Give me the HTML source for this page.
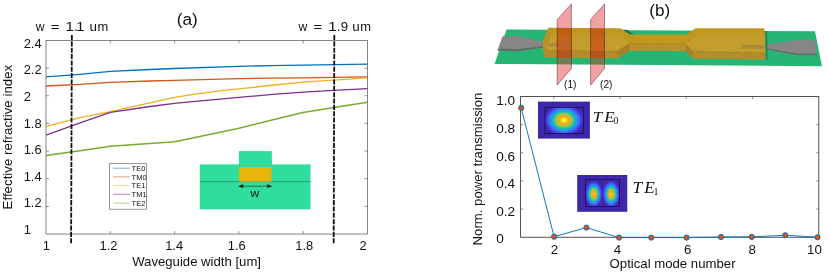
<!DOCTYPE html>
<html><head><meta charset="utf-8"><title>figure</title>
<style>
html,body{margin:0;padding:0;background:#fff;}
body{width:829px;height:272px;overflow:hidden;font-family:"Liberation Sans",sans-serif;}
svg{display:block;}
text{font-family:"Liberation Sans",sans-serif;fill:#111;}
.ser{font-family:"Liberation Serif",serif;font-style:italic;}
</style></head><body>
<svg width="829" height="272" viewBox="0 0 829 272" style="will-change:transform">
<rect width="829" height="272" fill="#fff"/>
<defs>
<filter id="pm" x="0" y="0" width="1" height="1" color-interpolation-filters="sRGB"><feComponentTransfer><feFuncR type="table" tableValues="0.242 0.253 0.264 0.272 0.276 0.281 0.279 0.273 0.258 0.239 0.196 0.184 0.171 0.158 0.135 0.108 0.080 0.070 0.069 0.070 0.070 0.121 0.172 0.226 0.295 0.367 0.449 0.534 0.622 0.707 0.788 0.843 0.880 0.886 0.892 0.899 0.905 0.927 0.950 0.963 0.977"/><feFuncG type="table" tableValues="0.150 0.174 0.198 0.227 0.263 0.298 0.333 0.368 0.404 0.441 0.485 0.516 0.547 0.580 0.609 0.637 0.665 0.691 0.710 0.728 0.746 0.759 0.773 0.785 0.788 0.791 0.796 0.796 0.785 0.765 0.733 0.701 0.670 0.674 0.677 0.681 0.685 0.753 0.820 0.902 0.984"/><feFuncB type="table" tableValues="0.660 0.726 0.792 0.848 0.894 0.940 0.962 0.981 0.990 0.998 0.989 0.974 0.954 0.930 0.906 0.883 0.860 0.842 0.805 0.766 0.726 0.679 0.632 0.584 0.526 0.466 0.395 0.326 0.260 0.210 0.182 0.166 0.160 0.160 0.160 0.160 0.160 0.145 0.130 0.105 0.081"/></feComponentTransfer></filter>
<radialGradient id="r0" cx="0.5" cy="0.5" r="0.5"><stop offset="0.0000" stop-color="rgb(255,255,255)"/><stop offset="0.0417" stop-color="rgb(254,254,254)"/><stop offset="0.0833" stop-color="rgb(251,251,251)"/><stop offset="0.1250" stop-color="rgb(245,245,245)"/><stop offset="0.1667" stop-color="rgb(238,238,238)"/><stop offset="0.2083" stop-color="rgb(229,229,229)"/><stop offset="0.2500" stop-color="rgb(218,218,218)"/><stop offset="0.2917" stop-color="rgb(205,205,205)"/><stop offset="0.3333" stop-color="rgb(191,191,191)"/><stop offset="0.3750" stop-color="rgb(176,176,176)"/><stop offset="0.4167" stop-color="rgb(160,160,160)"/><stop offset="0.4583" stop-color="rgb(144,144,144)"/><stop offset="0.5000" stop-color="rgb(128,128,128)"/><stop offset="0.5417" stop-color="rgb(111,111,111)"/><stop offset="0.5833" stop-color="rgb(95,95,95)"/><stop offset="0.6250" stop-color="rgb(79,79,79)"/><stop offset="0.6667" stop-color="rgb(64,64,64)"/><stop offset="0.7083" stop-color="rgb(50,50,50)"/><stop offset="0.7500" stop-color="rgb(37,37,37)"/><stop offset="0.7917" stop-color="rgb(26,26,26)"/><stop offset="0.8333" stop-color="rgb(17,17,17)"/><stop offset="0.8750" stop-color="rgb(10,10,10)"/><stop offset="0.9167" stop-color="rgb(4,4,4)"/><stop offset="0.9583" stop-color="rgb(1,1,1)"/><stop offset="1.0000" stop-color="rgb(0,0,0)"/></radialGradient>
<radialGradient id="r1" cx="0.5" cy="0.5" r="0.5"><stop offset="0.0000" stop-color="rgb(244,244,244)"/><stop offset="0.0417" stop-color="rgb(242,242,242)"/><stop offset="0.0833" stop-color="rgb(239,239,239)"/><stop offset="0.1250" stop-color="rgb(234,234,234)"/><stop offset="0.1667" stop-color="rgb(227,227,227)"/><stop offset="0.2083" stop-color="rgb(218,218,218)"/><stop offset="0.2500" stop-color="rgb(208,208,208)"/><stop offset="0.2917" stop-color="rgb(196,196,196)"/><stop offset="0.3333" stop-color="rgb(183,183,183)"/><stop offset="0.3750" stop-color="rgb(168,168,168)"/><stop offset="0.4167" stop-color="rgb(153,153,153)"/><stop offset="0.4583" stop-color="rgb(138,138,138)"/><stop offset="0.5000" stop-color="rgb(122,122,122)"/><stop offset="0.5417" stop-color="rgb(106,106,106)"/><stop offset="0.5833" stop-color="rgb(90,90,90)"/><stop offset="0.6250" stop-color="rgb(75,75,75)"/><stop offset="0.6667" stop-color="rgb(61,61,61)"/><stop offset="0.7083" stop-color="rgb(48,48,48)"/><stop offset="0.7500" stop-color="rgb(36,36,36)"/><stop offset="0.7917" stop-color="rgb(25,25,25)"/><stop offset="0.8333" stop-color="rgb(16,16,16)"/><stop offset="0.8750" stop-color="rgb(9,9,9)"/><stop offset="0.9167" stop-color="rgb(4,4,4)"/><stop offset="0.9583" stop-color="rgb(1,1,1)"/><stop offset="1.0000" stop-color="rgb(0,0,0)"/></radialGradient>
<clipPath id="c1a"><rect x="585.4" y="179.4" width="17.15" height="26.9"/></clipPath>
<clipPath id="c1b"><rect x="602.55" y="179.4" width="17.15" height="26.9"/></clipPath>
<clipPath id="c0"><rect x="545" y="107.3" width="38.5" height="26"/></clipPath>
<clipPath id="c1"><rect x="585.4" y="179.4" width="34.3" height="26.9"/></clipPath>
<clipPath id="ca"><rect x="46" y="40.4" width="321.5" height="193.6"/></clipPath>
</defs>
<g id="panelA">
<polyline fill="none" stroke="#0072BD" stroke-width="1.3" stroke-linejoin="round" points="46.00,76.90 80.00,74.30 110.30,71.35 150.00,69.50 174.50,68.50 238.90,66.30 270.00,65.70 303.00,65.10 367.50,64.10"/>
<polyline fill="none" stroke="#D95319" stroke-width="1.3" stroke-linejoin="round" points="46.00,86.00 80.00,84.30 110.30,82.30 150.00,81.00 174.50,80.40 238.90,78.70 270.00,78.20 303.00,77.80 367.50,76.90"/>
<polyline fill="none" stroke="#EDB120" stroke-width="1.3" stroke-linejoin="round" points="46.00,126.30 80.00,117.60 110.30,111.70 174.50,97.30 195.00,94.20 220.00,90.90 238.90,88.90 270.00,85.50 303.00,82.20 367.50,77.80"/>
<polyline fill="none" stroke="#7E2F8E" stroke-width="1.3" stroke-linejoin="round" points="46.00,135.20 80.00,122.90 110.30,112.40 150.00,106.50 174.50,103.40 195.00,101.30 220.00,99.10 238.90,97.40 270.00,94.60 303.00,92.10 334.00,90.30 367.50,88.70"/>
<polyline fill="none" stroke="#77AC30" stroke-width="1.3" stroke-linejoin="round" points="46.00,155.50 80.00,150.75 110.30,146.25 174.50,141.75 195.00,137.50 220.00,132.25 238.90,128.25 270.00,120.50 303.00,112.50 334.00,107.50 367.50,102.25"/>
<rect x="199.8" y="164.4" width="110.7" height="45" fill="#2fdd9c"/>
<rect x="238.9" y="151.1" width="33" height="14" fill="#2fdd9c"/>
<rect x="239.1" y="167.1" width="32.5" height="14.5" fill="#e9b509"/>
<line x1="199.8" y1="181.7" x2="239.1" y2="181.7" stroke="#1f8f68" stroke-width="0.8"/><line x1="271.6" y1="181.7" x2="310.5" y2="181.7" stroke="#1f8f68" stroke-width="0.8"/><line x1="239.1" y1="181.8" x2="271.6" y2="181.8" stroke="#8a8a3a" stroke-width="0.5"/>
<line x1="241" y1="186.2" x2="270" y2="186.2" stroke="#1a1a1a" stroke-width="0.6"/>
<polygon points="238.2,186.2 243.2,184.3 243.2,188.1" fill="#111"/>
<polygon points="272.3,186.2 267.3,184.3 267.3,188.1" fill="#111"/>
<text x="254.7" y="196.9" font-size="11.6" text-anchor="middle" transform="translate(254.7 0) scale(1.08 1) translate(-254.7 0)">w</text>
<rect x="46.00" y="40.45" width="321.50" height="193.60" fill="none" stroke="#666" stroke-width="0.8"/>
<line x1="110.30" y1="234.05" x2="110.30" y2="231.05" stroke="#666" stroke-width="0.7"/><line x1="110.30" y1="40.45" x2="110.30" y2="43.45" stroke="#666" stroke-width="0.7"/>
<line x1="174.60" y1="234.05" x2="174.60" y2="231.05" stroke="#666" stroke-width="0.7"/><line x1="174.60" y1="40.45" x2="174.60" y2="43.45" stroke="#666" stroke-width="0.7"/>
<line x1="238.90" y1="234.05" x2="238.90" y2="231.05" stroke="#666" stroke-width="0.7"/><line x1="238.90" y1="40.45" x2="238.90" y2="43.45" stroke="#666" stroke-width="0.7"/>
<line x1="303.20" y1="234.05" x2="303.20" y2="231.05" stroke="#666" stroke-width="0.7"/><line x1="303.20" y1="40.45" x2="303.20" y2="43.45" stroke="#666" stroke-width="0.7"/>
<line x1="46.00" y1="206.39" x2="49.00" y2="206.39" stroke="#666" stroke-width="0.7"/><line x1="367.50" y1="206.39" x2="364.50" y2="206.39" stroke="#666" stroke-width="0.7"/>
<line x1="46.00" y1="178.74" x2="49.00" y2="178.74" stroke="#666" stroke-width="0.7"/><line x1="367.50" y1="178.74" x2="364.50" y2="178.74" stroke="#666" stroke-width="0.7"/>
<line x1="46.00" y1="151.08" x2="49.00" y2="151.08" stroke="#666" stroke-width="0.7"/><line x1="367.50" y1="151.08" x2="364.50" y2="151.08" stroke="#666" stroke-width="0.7"/>
<line x1="46.00" y1="123.42" x2="49.00" y2="123.42" stroke="#666" stroke-width="0.7"/><line x1="367.50" y1="123.42" x2="364.50" y2="123.42" stroke="#666" stroke-width="0.7"/>
<line x1="46.00" y1="95.76" x2="49.00" y2="95.76" stroke="#666" stroke-width="0.7"/><line x1="367.50" y1="95.76" x2="364.50" y2="95.76" stroke="#666" stroke-width="0.7"/>
<line x1="46.00" y1="68.11" x2="49.00" y2="68.11" stroke="#666" stroke-width="0.7"/><line x1="367.50" y1="68.11" x2="364.50" y2="68.11" stroke="#666" stroke-width="0.7"/>
<line x1="71.85" y1="35.0" x2="71.10" y2="243.3" stroke="#111" stroke-width="1.8" stroke-dasharray="5.05 1.3"/>
<line x1="334.30" y1="35.0" x2="333.70" y2="243.3" stroke="#111" stroke-width="1.8" stroke-dasharray="5.05 1.3"/>
<rect x="109.4" y="163.7" width="37.1" height="45.5" fill="#fff" stroke="#6a6a6a" stroke-width="0.7"/>
<line x1="113.2" y1="168.20" x2="129.9" y2="168.20" stroke="#0072BD" stroke-width="0.8" opacity="0.7"/><text x="131.6" y="170.90" font-size="7.5">TE0</text>
<line x1="113.2" y1="176.80" x2="129.9" y2="176.80" stroke="#D95319" stroke-width="0.8" opacity="0.7"/><text x="131.6" y="179.50" font-size="7.5">TM0</text>
<line x1="113.2" y1="185.40" x2="129.9" y2="185.40" stroke="#EDB120" stroke-width="0.8" opacity="0.7"/><text x="131.6" y="188.10" font-size="7.5">TE1</text>
<line x1="113.2" y1="194.30" x2="129.9" y2="194.30" stroke="#7E2F8E" stroke-width="0.8" opacity="0.7"/><text x="131.6" y="197.00" font-size="7.5">TM1</text>
<line x1="113.2" y1="203.10" x2="129.9" y2="203.10" stroke="#77AC30" stroke-width="0.8" opacity="0.7"/><text x="131.6" y="205.80" font-size="7.5">TE2</text>
<text x="23.7" y="47.60" font-size="12.9">2.4</text>
<text x="23.7" y="74.10" font-size="12.9">2.2</text>
<text x="23.7" y="101.10" font-size="12.9">2</text>
<text x="23.7" y="127.75" font-size="12.9">1.8</text>
<text x="23.7" y="154.10" font-size="12.9">1.6</text>
<text x="23.7" y="180.60" font-size="12.9">1.4</text>
<text x="23.7" y="207.00" font-size="12.9">1.2</text>
<text x="23.7" y="233.60" font-size="12.9">1</text>
<text x="46.40" y="250.0" font-size="12.9" text-anchor="middle">1</text>
<text x="108.50" y="250.0" font-size="12.9" text-anchor="middle">1.2</text>
<text x="174.10" y="250.0" font-size="12.9" text-anchor="middle">1.4</text>
<text x="236.75" y="250.0" font-size="12.9" text-anchor="middle">1.6</text>
<text x="304.25" y="250.0" font-size="12.9" text-anchor="middle">1.8</text>
<text x="363.00" y="250.0" font-size="12.9" text-anchor="middle">2</text>
<text x="132.2" y="265.75" font-size="13.15">Waveguide width [um]</text>
<text transform="translate(12.1 209.4) rotate(-90)" font-size="13.3">Effective refractive index</text>
<text x="176.8" y="25.4" font-size="17.2">(a)</text>
<text transform="translate(40.15 30.6) scale(1.00 1)" font-size="12.2" text-anchor="middle" fill="#222">w</text><text transform="translate(55.20 30.6) scale(1.22 1)" font-size="12.2" text-anchor="middle" fill="#222">=</text><text transform="translate(69.75 30.6) scale(1.25 1)" font-size="12.2" text-anchor="middle" fill="#222">1</text><text transform="translate(75.95 30.6) scale(1.00 1)" font-size="12.2" text-anchor="middle" fill="#222">.</text><text transform="translate(80.25 30.6) scale(1.25 1)" font-size="12.2" text-anchor="middle" fill="#222">1</text><text transform="translate(93.30 30.6) scale(1.10 1)" font-size="12.2" text-anchor="middle" fill="#222">u</text><text transform="translate(102.95 30.6) scale(1.06 1)" font-size="12.2" text-anchor="middle" fill="#222">m</text>
<text transform="translate(302.90 30.6) scale(1.00 1)" font-size="12.2" text-anchor="middle" fill="#222">w</text><text transform="translate(317.95 30.6) scale(1.22 1)" font-size="12.2" text-anchor="middle" fill="#222">=</text><text transform="translate(332.50 30.6) scale(1.25 1)" font-size="12.2" text-anchor="middle" fill="#222">1</text><text transform="translate(338.70 30.6) scale(1.00 1)" font-size="12.2" text-anchor="middle" fill="#222">.</text><text transform="translate(344.40 30.6) scale(1.08 1)" font-size="12.2" text-anchor="middle" fill="#222">9</text><text transform="translate(356.05 30.6) scale(1.10 1)" font-size="12.2" text-anchor="middle" fill="#222">u</text><text transform="translate(365.70 30.6) scale(1.06 1)" font-size="12.2" text-anchor="middle" fill="#222">m</text>
</g>
<g id="panelB">
<polygon points="506.5,29.6 815,31.2 822,66.3 494.6,63.9" fill="#26b573"/>
<polygon points="502.5,36.2 518.5,36.3 544,42.1 544,46.0 518.5,49.0 498.1,48.4" fill="#868686"/>
<polygon points="498.1,48.4 518.5,49.0 544,46.0 544,47.6 517.6,51.5 497.5,50.7" fill="#6a6a6a"/>
<polygon points="765,45.0 798,39.5 814.5,40 817.3,53.4 797,53.4 765,48.0" fill="#868686"/>
<polygon points="765,48.0 797,53.4 817.3,53.4 817.6,55.2 798,55.2 765,49.3" fill="#6c6c6c"/>
<polygon points="764,30.9 767.2,31 767.8,60 765,59.6" fill="#1c8f58"/>
<polygon points="622,29.7 627,29.7 634,34.6 629.4,34.6" fill="#167a4c"/>
<polygon points="548.5,27.8 620.6,28.3 629.4,34.6 686.2,34.6 695.6,28.3 764.2,28.3 765.3,36 765.3,59.4 693,58.4 686,51.3 629.4,50.6 618,58.2 545,57.1 543,50.1 543,41.5" fill="#c0981f"/>
<polygon points="551,35.3 621.9,35.8 629.2,43.3 616.5,51.4 546,50.3" fill="#c39d2e"/>
<polygon points="686.2,44 696.9,35.5 764.3,35.5 765.3,52.9 693,51.4" fill="#c39d2e"/>
<polygon points="543,50.1 616.5,51.4 618,58.2 545,57.1" fill="#b38c2c"/>
<polygon points="693,51.4 765.3,52.9 765.3,59.4 693,58.4" fill="#b38c2c"/>
<polygon points="628.9,43.6 686.2,43.9 686,51.3 629.4,50.6" fill="#b8902d"/>
<polygon points="628.9,43.6 629.4,50.6 618,58.2 616.5,51.4" fill="#a4802a"/>
<polygon points="686.2,43.9 693,51.4 693,58.4 686,51.3" fill="#a4802a"/>
<path d="M546,50.4 L616.5,51.4 M629,43.6 L686,43.9 M693,51.4 L765,52.9" stroke="#8f6f22" stroke-width="0.6" stroke-dasharray="1.6 1.4" fill="none"/>
<polygon points="548.5,27.8 551,35.3 546,50.3 543,50.1 543,41.5" fill="#b8912a"/>
<rect x="548" y="43" width="21.5" height="3.8" fill="#a98a3e"/>
<rect x="741.5" y="44.9" width="22.5" height="3.9" fill="#a98a3e"/>
<clipPath id="cp0"><polygon points="557.2,19.7 571.4,3.9 571.4,68.4 557.2,85.1"/></clipPath>
<polygon points="557.2,19.7 571.4,3.9 571.4,68.4 557.2,85.1" fill="#f1a2a4"/>
<g clip-path="url(#cp0)"><polygon points="506.5,29.6 815,31.2 822,66.3 494.6,63.9" fill="#6d7f4c"/><polygon points="548.5,27.8 620.6,28.3 629.4,34.6 686.2,34.6 695.6,28.3 764.2,28.3 765.3,36 765.3,59.4 693,58.4 686,51.3 629.4,50.6 618,58.2 545,57.1 543,50.1 543,41.5" fill="#be5e13"/><polygon points="551,35.3 621.9,35.8 629.2,43.3 616.5,51.4 546,50.3" fill="#c5621d"/><polygon points="543,50.1 616.5,51.4 618,58.2 545,57.1" fill="#b3561c"/><rect x="548" y="43" width="21.5" height="3.8" fill="#b96030"/></g>
<polygon points="557.2,19.7 571.4,3.9 571.4,68.4 557.2,85.1" fill="none" stroke="#4a1414" stroke-width="0.55" stroke-opacity="0.85"/>
<clipPath id="cp1"><polygon points="590.6,19.7 604.5,3.9 604.5,68.4 590.6,85.1"/></clipPath>
<polygon points="590.6,19.7 604.5,3.9 604.5,68.4 590.6,85.1" fill="#f1a2a4"/>
<g clip-path="url(#cp1)"><polygon points="506.5,29.6 815,31.2 822,66.3 494.6,63.9" fill="#6d7f4c"/><polygon points="548.5,27.8 620.6,28.3 629.4,34.6 686.2,34.6 695.6,28.3 764.2,28.3 765.3,36 765.3,59.4 693,58.4 686,51.3 629.4,50.6 618,58.2 545,57.1 543,50.1 543,41.5" fill="#be5e13"/><polygon points="551,35.3 621.9,35.8 629.2,43.3 616.5,51.4 546,50.3" fill="#c5621d"/><polygon points="543,50.1 616.5,51.4 618,58.2 545,57.1" fill="#b3561c"/><rect x="548" y="43" width="21.5" height="3.8" fill="#b96030"/></g>
<polygon points="590.6,19.7 604.5,3.9 604.5,68.4 590.6,85.1" fill="none" stroke="#4a1414" stroke-width="0.55" stroke-opacity="0.85"/>
<text x="564.0" y="88.2" font-size="10.2">(1)</text>
<text x="600.0" y="88.2" font-size="10.2">(2)</text>
<text x="649.2" y="16.3" font-size="17.1">(b)</text>
<rect x="538" y="101.6" width="51.9" height="37" fill="rgb(62,38,168)"/>
<g filter="url(#pm)"><g clip-path="url(#c0)"><rect x="540" y="104" width="48" height="32" fill="#000"/><ellipse cx="563.9" cy="120.2" rx="21.5" ry="17.2" fill="url(#r0)"/></g></g>
<rect x="545" y="107.3" width="38.5" height="26" fill="none" stroke="#0a0a28" stroke-width="0.6"/>
<rect x="577.2" y="175" width="50.1" height="36.8" fill="rgb(62,38,168)"/>
<g filter="url(#pm)"><g clip-path="url(#c1)"><rect x="580" y="176" width="45" height="34" fill="#000"/></g><g clip-path="url(#c1a)"><ellipse cx="593.8" cy="194.1" rx="9.5" ry="14.6" fill="url(#r1)"/></g><g clip-path="url(#c1b)"><ellipse cx="611.2" cy="194.1" rx="9.5" ry="14.6" fill="url(#r1)"/></g></g>
<rect x="585.4" y="179.4" width="34.3" height="26.9" fill="none" stroke="#0a0a28" stroke-width="0.6"/>
<text class="ser" transform="translate(592.7 122.2) scale(1.1 1)" font-size="15.4">T</text><text class="ser" transform="translate(604.3 122.2) scale(1.1 1)" font-size="15.4">E</text><text x="613.6" y="123.7" font-size="10" style="font-family:'Liberation Serif',serif">0</text>
<text class="ser" transform="translate(632.4 193.2) scale(1.1 1)" font-size="15.7">T</text><text class="ser" transform="translate(644.3 193.2) scale(1.1 1)" font-size="15.7">E</text><text x="653.6" y="194.9" font-size="10" style="font-family:'Liberation Serif',serif">1</text>
<rect x="520.60" y="96.50" width="298.20" height="140.75" fill="none" stroke="#333" stroke-width="0.85"/>
<line x1="553.73" y1="237.25" x2="553.73" y2="234.55" stroke="#6a6a6a" stroke-width="0.75"/><line x1="553.73" y1="96.50" x2="553.73" y2="99.20" stroke="#6a6a6a" stroke-width="0.75"/>
<line x1="620.00" y1="237.25" x2="620.00" y2="234.55" stroke="#6a6a6a" stroke-width="0.75"/><line x1="620.00" y1="96.50" x2="620.00" y2="99.20" stroke="#6a6a6a" stroke-width="0.75"/>
<line x1="686.27" y1="237.25" x2="686.27" y2="234.55" stroke="#6a6a6a" stroke-width="0.75"/><line x1="686.27" y1="96.50" x2="686.27" y2="99.20" stroke="#6a6a6a" stroke-width="0.75"/>
<line x1="752.53" y1="237.25" x2="752.53" y2="234.55" stroke="#6a6a6a" stroke-width="0.75"/><line x1="752.53" y1="96.50" x2="752.53" y2="99.20" stroke="#6a6a6a" stroke-width="0.75"/>
<line x1="520.60" y1="209.10" x2="523.30" y2="209.10" stroke="#6a6a6a" stroke-width="0.75"/><line x1="818.80" y1="209.10" x2="816.10" y2="209.10" stroke="#6a6a6a" stroke-width="0.75"/>
<line x1="520.60" y1="180.95" x2="523.30" y2="180.95" stroke="#6a6a6a" stroke-width="0.75"/><line x1="818.80" y1="180.95" x2="816.10" y2="180.95" stroke="#6a6a6a" stroke-width="0.75"/>
<line x1="520.60" y1="152.80" x2="523.30" y2="152.80" stroke="#6a6a6a" stroke-width="0.75"/><line x1="818.80" y1="152.80" x2="816.10" y2="152.80" stroke="#6a6a6a" stroke-width="0.75"/>
<line x1="520.60" y1="124.65" x2="523.30" y2="124.65" stroke="#6a6a6a" stroke-width="0.75"/><line x1="818.80" y1="124.65" x2="816.10" y2="124.65" stroke="#6a6a6a" stroke-width="0.75"/>
<polyline fill="none" stroke="#0072BD" stroke-width="0.95" points="521.20,107.90 554.10,236.70 586.40,227.60 619.00,237.60 651.25,237.60 686.60,237.60 721.00,237.00 751.75,236.90 785.25,235.25 817.50,237.25"/>
<circle cx="521.20" cy="107.90" r="2.6" fill="#D95319" stroke="#0072BD" stroke-width="1"/><circle cx="554.10" cy="236.70" r="2.6" fill="#D95319" stroke="#0072BD" stroke-width="1"/><circle cx="586.40" cy="227.60" r="2.6" fill="#D95319" stroke="#0072BD" stroke-width="1"/><circle cx="619.00" cy="237.60" r="2.6" fill="#D95319" stroke="#0072BD" stroke-width="1"/><circle cx="651.25" cy="237.60" r="2.6" fill="#D95319" stroke="#0072BD" stroke-width="1"/><circle cx="686.60" cy="237.60" r="2.6" fill="#D95319" stroke="#0072BD" stroke-width="1"/><circle cx="721.00" cy="237.00" r="2.6" fill="#D95319" stroke="#0072BD" stroke-width="1"/><circle cx="751.75" cy="236.90" r="2.6" fill="#D95319" stroke="#0072BD" stroke-width="1"/><circle cx="785.25" cy="235.25" r="2.6" fill="#D95319" stroke="#0072BD" stroke-width="1"/><circle cx="817.50" cy="237.25" r="2.6" fill="#D95319" stroke="#0072BD" stroke-width="1"/>
<text x="496.2" y="105.10" font-size="13.6">1.0</text>
<text x="496.2" y="133.20" font-size="13.6">0.8</text>
<text x="496.2" y="160.50" font-size="13.6">0.6</text>
<text x="496.2" y="187.60" font-size="13.6">0.4</text>
<text x="496.2" y="216.00" font-size="13.6">0.2</text>
<text x="496.2" y="243.30" font-size="13.6">0</text>
<text x="554.50" y="254.1" font-size="13.3" text-anchor="middle">2</text>
<text x="617.40" y="254.1" font-size="13.3" text-anchor="middle">4</text>
<text x="687.60" y="254.1" font-size="13.3" text-anchor="middle">6</text>
<text x="752.30" y="254.1" font-size="13.3" text-anchor="middle">8</text>
<text x="814.40" y="254.1" font-size="13.3" text-anchor="middle">10</text>
<text x="609.6" y="267.7" font-size="13.18">Optical mode number</text>
<text transform="translate(482.4 245.4) rotate(-90)" font-size="13.16">Norm. power transmission</text>
</g>
</svg>
</body></html>
